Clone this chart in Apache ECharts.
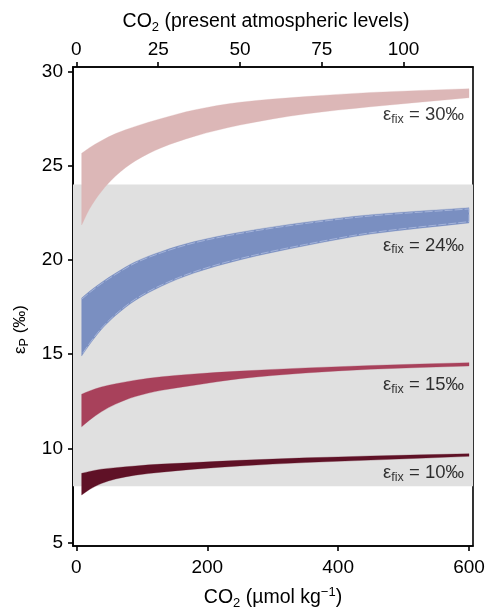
<!DOCTYPE html>
<html>
<head>
<meta charset="utf-8">
<style>
  html, body { margin: 0; padding: 0; background: #fff; }
  #chart { width: 485px; height: 607px; }
</style>
<script src="https://cdn.jsdelivr.net/npm/echarts@6/dist/echarts.min.js"></script>
</head>
<body>
<div id="chart"></div>
<script>
// ---- data ----
const co2 = [8, 20, 38, 60, 90, 130, 180, 250, 350, 450, 600]; // µmol kg-1

const fix30Upper = [25.65, 25.95, 26.32, 26.70, 27.08, 27.50, 27.95, 28.36, 28.66, 28.88, 29.08];
const fix30Lower = [21.85, 22.70, 23.62, 24.45, 25.25, 25.95, 26.55, 27.15, 27.74, 28.12, 28.60];

const fix24Upper = [17.98, 18.33, 18.80, 19.30, 19.90, 20.45, 20.97, 21.47, 22.00, 22.40, 22.77];
const fix24Lower = [14.90, 15.50, 16.30, 17.05, 17.85, 18.60, 19.30, 20.00, 20.75, 21.37, 21.96];

const fix15Upper = [12.88, 13.05, 13.26, 13.43, 13.62, 13.80, 13.95, 14.10, 14.27, 14.40, 14.55];
const fix15Lower = [11.15, 11.50, 11.94, 12.35, 12.75, 13.08, 13.35, 13.70, 14.00, 14.20, 14.37];

const fix10Upper = [8.68, 8.78, 8.90, 8.98, 9.07, 9.17, 9.25, 9.37, 9.50, 9.60, 9.72];
const fix10Lower = [7.53, 7.82, 8.14, 8.38, 8.58, 8.74, 8.90, 9.07, 9.25, 9.38, 9.58];

const epsFixValues = ['30', '24', '15', '10'];
const shadedRange = [8, 24];            // grey band, εP (‰)

const co2Ticks = [0, 200, 400, 600];
const palTicks = [0, 25, 50, 75, 100];
const epsTicks = [5, 10, 15, 20, 25, 30];
const umolPerPAL = 5;                   // top-axis conversion

// ---- chart ----
const FONT = 'Liberation Sans, Arial, Helvetica, sans-serif';
const TXT = '#000';
const xMin = -5.2, xMax = 606.1;
const axisLineStyle = { color: '#000', width: 1.6 };

// monotone cubic (Fritsch–Carlson) segments through pixel points
function hermiteSegments(p) {
  const n = p.length, m = [], t = [];
  for (let k = 0; k < n - 1; k++) m.push((p[k + 1][1] - p[k][1]) / (p[k + 1][0] - p[k][0]));
  t[0] = m[0]; t[n - 1] = m[n - 2];
  for (let k = 1; k < n - 1; k++) {
    if (m[k - 1] * m[k] <= 0) { t[k] = 0; continue; }
    const h0 = p[k][0] - p[k - 1][0], h1 = p[k + 1][0] - p[k][0];
    t[k] = 3 * (h0 + h1) / ((2 * h1 + h0) / m[k - 1] + (h1 + 2 * h0) / m[k]);
  }
  const segs = [];
  for (let k = 0; k < n - 1; k++) {
    const h = p[k + 1][0] - p[k][0];
    segs.push([
      p[k],
      [p[k][0] + h / 3, p[k][1] + t[k] * h / 3],
      [p[k + 1][0] - h / 3, p[k + 1][1] - t[k + 1] * h / 3],
      p[k + 1]
    ]);
  }
  return segs;
}
const f = (v) => v.toFixed(2);
function curvePath(pts, reverse, moveFirst) {
  const segs = hermiteSegments(pts);
  let d = '';
  if (!reverse) {
    d += (moveFirst ? 'M' : 'L') + f(pts[0][0]) + ' ' + f(pts[0][1]);
    segs.forEach(s => { d += ' C' + f(s[1][0]) + ' ' + f(s[1][1]) + ' ' + f(s[2][0]) + ' ' + f(s[2][1]) + ' ' + f(s[3][0]) + ' ' + f(s[3][1]); });
  } else {
    const last = pts[pts.length - 1];
    d += (moveFirst ? 'M' : ' L') + f(last[0]) + ' ' + f(last[1]);
    segs.slice().reverse().forEach(s => { d += ' C' + f(s[2][0]) + ' ' + f(s[2][1]) + ' ' + f(s[1][0]) + ' ' + f(s[1][1]) + ' ' + f(s[0][0]) + ' ' + f(s[0][1]); });
  }
  return d;
}

function bandSeries(upper, lower, color, outlineColor) {
  return {
    type: 'custom', z: 3, silent: true, clip: true,
    data: co2.map((x, i) => [x, lower[i], upper[i]]),
    encode: { x: 0, y: [1, 2] },
    renderItem: function (params, api) {
      if (params.dataIndex !== 0) return null;
      const up = co2.map((x, i) => api.coord([x, upper[i]]));
      const lo = co2.map((x, i) => api.coord([x, lower[i]]));
      const d = curvePath(up, false, true) + curvePath(lo, true, false) + ' Z';
      const children = [{ type: 'path', shape: { pathData: d }, style: { fill: color, stroke: color, lineWidth: 0.3 } }];
      if (outlineColor) {
        const upIn = up.map(p => [p[0], p[1] + 1.3]);
        const loIn = lo.map(p => [p[0], p[1] - 1.3]);
        const d2 = curvePath(upIn, false, true) + curvePath(loIn, true, false);
        children.push({ type: 'path', shape: { pathData: d2 },
          style: { fill: null, stroke: outlineColor, lineWidth: 0.8, lineDash: [8, 2] } });
      }
      return { type: 'group', children: children };
    }
  };
}

function labelSeries(lower, text, dy) {
  const last = co2.length - 1;
  return {
    type: 'scatter', symbolSize: 0, z: 5, silent: true,
    data: [[co2[last], lower[last]]],
    label: {
      show: true, position: 'left', distance: 5, offset: [0, dy],
      formatter: '{e|ε}{s|fix}{e| = ' + text + '‰}',
      rich: {
        e: { fontFamily: FONT, fontSize: 18.5, color: TXT, lineHeight: 22 },
        s: { fontFamily: FONT, fontSize: 12.5, color: TXT, verticalAlign: 'bottom' }
      }
    }
  };
}

const chart = echarts.init(document.getElementById('chart'), null, { renderer: 'canvas' });

const option = {
  animation: false,
  backgroundColor: '#fff',
  grid: {
    left: 73, right: 12, top: 67, bottom: 61,
    containLabel: false, outerBoundsMode: 'none',
    show: true, borderColor: '#000', borderWidth: 1.6, backgroundColor: 'transparent'
  },
  xAxis: [
    {
      type: 'value', position: 'bottom', min: xMin, max: xMax,
      axisLine: { show: true, onZero: false, lineStyle: axisLineStyle },
      axisTick: { show: true, inside: false, length: 5, lineStyle: axisLineStyle, customValues: co2Ticks },
      axisLabel: { customValues: co2Ticks, fontFamily: FONT, fontSize: 19, color: TXT, margin: 12 },
      splitLine: { show: false },
      name: '{a|CO}{s|2}{a| (µmol kg}{p|−1}{a|)}',
      nameLocation: 'middle', nameGap: 40,
      nameTextStyle: {
        rich: {
          a: { fontFamily: FONT, fontSize: 19.5, color: TXT, lineHeight: 24 },
          s: { fontFamily: FONT, fontSize: 13, color: TXT, verticalAlign: 'bottom' },
          p: { fontFamily: FONT, fontSize: 13, color: TXT, verticalAlign: 'top' }
        }
      }
    },
    {
      type: 'value', position: 'top', min: xMin / umolPerPAL, max: xMax / umolPerPAL,
      axisLine: { show: true, onZero: false, lineStyle: axisLineStyle },
      axisTick: { show: true, inside: false, length: 5, lineStyle: axisLineStyle, customValues: palTicks },
      axisLabel: { customValues: palTicks, fontFamily: FONT, fontSize: 19, color: TXT, margin: 8 },
      splitLine: { show: false },
      name: '{a|CO}{s|2}{a| (present atmospheric levels)}',
      nameLocation: 'middle', nameGap: 33,
      nameTextStyle: {
        padding: [0, 14, 0, 0],
        rich: {
          a: { fontFamily: FONT, fontSize: 19.5, color: TXT, lineHeight: 24 },
          s: { fontFamily: FONT, fontSize: 13, color: TXT, verticalAlign: 'bottom' }
        }
      }
    }
  ],
  yAxis: [
    {
      type: 'value', min: 4.825, max: 30.23,
      axisLine: { show: true, onZero: false, lineStyle: axisLineStyle },
      axisTick: { show: true, inside: false, length: 5, lineStyle: axisLineStyle, customValues: epsTicks },
      axisLabel: { customValues: epsTicks, fontFamily: FONT, fontSize: 19, color: TXT, margin: 10 },
      splitLine: { show: false },
      name: '{a|ε}{s|P}{a| (‰)}',
      nameLocation: 'middle', nameGap: 40, nameRotate: 90,
      nameTextStyle: {
        padding: [0, 46, 0, 0],
        rich: {
          a: { fontFamily: FONT, fontSize: 17, color: TXT, lineHeight: 22 },
          s: { fontFamily: FONT, fontSize: 12.5, color: TXT, verticalAlign: 'bottom' }
        }
      }
    }
  ],
  series: [
    {
      type: 'line', data: [], z: 1, silent: true,
      markArea: {
        silent: true,
        itemStyle: { color: '#e0e0e0' },
        data: [[{ yAxis: shadedRange[0] }, { yAxis: shadedRange[1] }]]
      }
    },
    bandSeries(fix30Upper, fix30Lower, '#dcb7b7'),
    bandSeries(fix24Upper, fix24Lower, '#7a8fc1', '#aebddf'),
    bandSeries(fix15Upper, fix15Lower, '#a8415b'),
    bandSeries(fix10Upper, fix10Lower, '#5f1126'),
    labelSeries(fix30Lower, epsFixValues[0], 17.5),
    labelSeries(fix24Lower, epsFixValues[1], 22.5),
    labelSeries(fix15Lower, epsFixValues[2], 19),
    labelSeries(fix10Lower, epsFixValues[3], 17)
  ]
};

chart.setOption(option);
</script>
</body>
</html>
